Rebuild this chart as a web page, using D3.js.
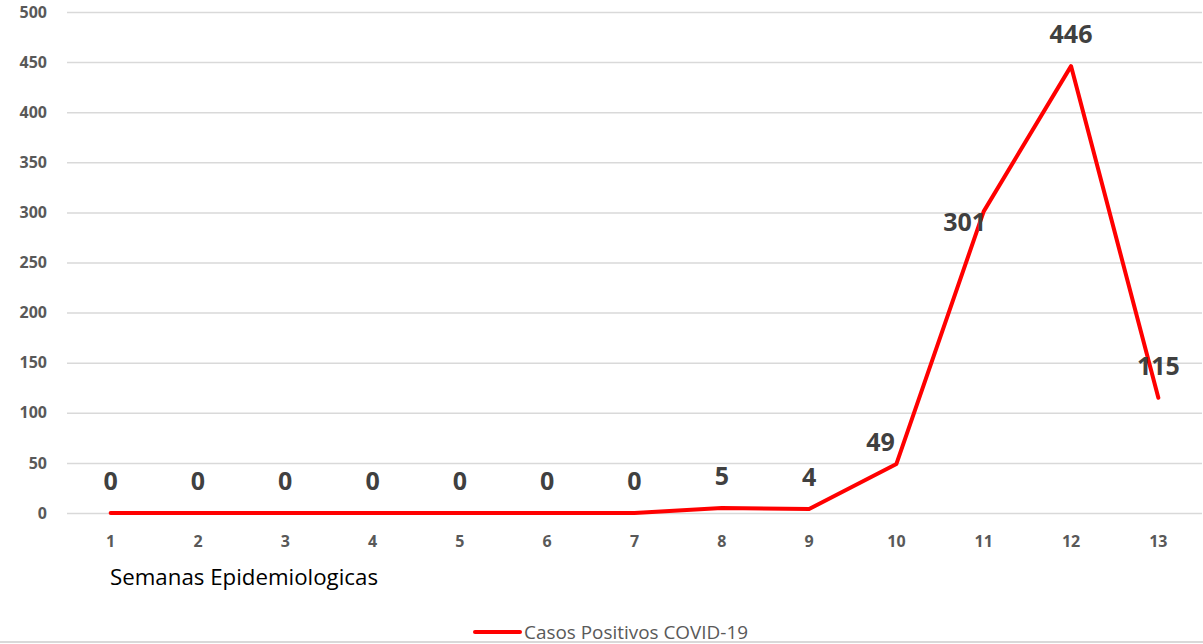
<!DOCTYPE html>
<meta charset="utf-8">
<html>
<head>
  <script src="https://d3js.org/d3.v7.min.js"></script>
  <style>
    body { margin: 0; background: #fff; }
    .y-axis text, .x-axis text {
      font-family: 'Open Sans', sans-serif;
      font-weight: 700;
      font-size: 16px;
      fill: #595959;
    }
    .y-axis path, .x-axis path, .x-axis line { stroke-width: 0; }
    .y-axis line { stroke: #d9d9d9; stroke-width: 1.5; }
    .label {
      font-family: 'Open Sans', sans-serif;
      font-weight: 700;
      font-size: 25px;
      fill: #404040;
    }
  </style>
</head>
<body>
  <script>
    // chart data
    var weeks = ['1', '2', '3', '4', '5', '6', '7', '8', '9', '10', '11', '12', '13'];
    var casos = [0, 0, 0, 0, 0, 0, 0, 5, 4, 49, 301, 446, 115];
    var yTicks = [0, 50, 100, 150, 200, 250, 300, 350, 400, 450, 500];
    var seriesName = 'Casos Positivos COVID-19';
    var xTitle = 'Semanas Epidemiologicas';

    var W = 1203, H = 644;
    var m = { top: 12, right: 1, bottom: 131, left: 67 };
    var w = W - m.left - m.right,
      h = H - m.top - m.bottom;

    var root = d3.select('body').append('svg')
      .attr('width', W)
      .attr('height', H);

    var svg = root.append('g')
      .attr('transform', `translate(${m.left}, ${m.top})`);

    var x = d3.scaleBand()
      .domain(weeks)
      .range([0, w]);

    var y = d3.scaleLinear()
      .domain([0, 500])
      .range([h, 0]);

    // Y axis + gridlines
    svg.append('g')
      .attr('class', 'y-axis')
      .call(d3.axisLeft(y)
        .tickValues(yTicks)
        .tickSize(-w)
        .tickPadding(20));

    // X axis
    svg.append('g')
      .attr('class', 'x-axis')
      .attr('transform', `translate(0, ${h})`)
      .call(d3.axisBottom(x).tickSize(0).tickPadding(23));

    // Line
    var line = d3.line()
      .x((d, i) => x(weeks[i]) + x.bandwidth() / 2)
      .y(d => y(d));

    svg.append('path')
      .datum(casos)
      .attr('fill', 'none')
      .attr('stroke', '#ff0000')
      .attr('stroke-width', 4)
      .attr('stroke-linejoin', 'round')
      .attr('stroke-linecap', 'round')
      .attr('d', line);

    // data labels (a couple were nudged by hand in the original)
    var nudge = { 9: [-16, 10], 10: [-19, 43] };
    svg.selectAll('.label')
      .data(casos)
      .enter()
      .append('text')
      .attr('class', 'label')
      .attr('text-anchor', 'middle')
      .attr('x', (d, i) => x(weeks[i]) + x.bandwidth() / 2 + (nudge[i] ? nudge[i][0] : 0))
      .attr('y', (d, i) => y(d) - 23 + (nudge[i] ? nudge[i][1] : 0))
      .text(d => d);

    // axis title
    root.append('text')
      .attr('x', 110)
      .attr('y', 585)
      .attr('textLength', 268)
      .attr('lengthAdjust', 'spacingAndGlyphs')
      .style('font-family', "'Open Sans', sans-serif")
      .style('font-size', '21px')
      .style('fill', '#000')
      .text(xTitle);

    // legend
    root.append('line')
      .attr('x1', 475).attr('x2', 520)
      .attr('y1', 632).attr('y2', 632)
      .attr('stroke', '#ff0000')
      .attr('stroke-width', 4)
      .attr('stroke-linecap', 'round');

    root.append('text')
      .attr('x', 524)
      .attr('y', 639)
      .attr('textLength', 224)
      .attr('lengthAdjust', 'spacingAndGlyphs')
      .style('font-family', "'Open Sans', sans-serif")
      .style('font-size', '18px')
      .style('fill', '#595959')
      .text(seriesName);

    // bottom border
    root.append('line')
      .attr('x1', 0).attr('x2', W)
      .attr('y1', 642).attr('y2', 642)
      .attr('stroke', '#d9d9d9')
      .attr('stroke-width', 2);
  </script>
</body>
</html>
